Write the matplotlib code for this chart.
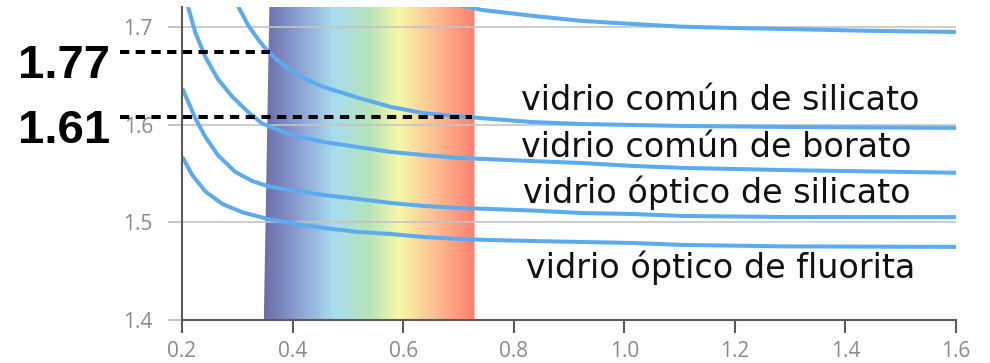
import numpy as np
import matplotlib
matplotlib.use("Agg")
import matplotlib.pyplot as plt
from matplotlib.colors import LinearSegmentedColormap
from matplotlib.patches import Polygon

# refractive index n vs wavelength (um)
flint_x = [0.70, 0.742, 0.833, 0.924, 1.015, 1.105, 1.196, 1.287, 1.45, 1.60]
flint_n = [1.723, 1.718, 1.712, 1.7067, 1.7036, 1.7008, 1.6995, 1.6985, 1.6965, 1.6954]

silicato_comun_x = [0.302, 0.320, 0.338, 0.356, 0.382, 0.396, 0.424, 0.456, 0.518, 0.578,
                    0.638, 0.700, 0.742, 0.833, 0.924, 1.015, 1.105, 1.287, 1.60]
silicato_comun_n = [1.721, 1.702, 1.6875, 1.675, 1.662, 1.656, 1.647, 1.639, 1.628, 1.6185,
                    1.612, 1.609, 1.607, 1.603, 1.601, 1.600, 1.599, 1.598, 1.597]

borato_comun_x = [0.211, 0.224, 0.242, 0.265, 0.291, 0.320, 0.345, 0.396, 0.456, 0.518,
                  0.578, 0.638, 0.700, 0.760, 0.833, 0.924, 1.015, 1.105, 1.287, 1.60]
borato_comun_n = [1.721, 1.695, 1.670, 1.647, 1.629, 1.613, 1.6015, 1.590, 1.5826, 1.5774,
                  1.5723, 1.5692, 1.5662, 1.5648, 1.563, 1.561, 1.558, 1.556, 1.5538, 1.551]

silicato_optico_x = [0.202, 0.211, 0.224, 0.242, 0.265, 0.296, 0.327, 0.356, 0.396, 0.456,
                     0.518, 0.578, 0.638, 0.700, 0.760, 0.833, 0.924, 1.015, 1.105, 1.287, 1.60]
silicato_optico_n = [1.636, 1.624, 1.607, 1.588, 1.569, 1.552, 1.5425, 1.537, 1.5333, 1.5282,
                     1.5241, 1.520, 1.5169, 1.5149, 1.5138, 1.5123, 1.5097, 1.5087, 1.5067, 1.5056, 1.5055]

fluorita_optico_x = [0.202, 0.218, 0.242, 0.273, 0.309, 0.356, 0.396, 0.456, 0.518, 0.578,
                     0.638, 0.700, 0.760, 0.833, 0.924, 1.015, 1.105, 1.287, 1.60]
fluorita_optico_n = [1.566, 1.549, 1.532, 1.519, 1.5105, 1.5035, 1.4995, 1.4944, 1.4903, 1.4882,
                     1.4851, 1.4831, 1.482, 1.481, 1.480, 1.479, 1.477, 1.4755, 1.475]

curve_labels = ["vidrio común de silicato", "vidrio común de borato",
                "vidrio óptico de silicato", "vidrio óptico de fluorita"]
label_x = [0.813, 0.813, 0.816, 0.822]
label_y = [1.615, 1.567, 1.520, 1.443]

# visible band and the two marked values
band_left_bottom, band_left_top, band_right = 0.348, 0.358, 0.729
marks = ["1.77", "1.61"]
mark_y = [1.675, 1.608]
mark_x_end = [0.36, 0.724]
mark_text_y = [1.648, 1.5815]

x_ticks = [0.2, 0.4, 0.6, 0.8, 1.0, 1.2, 1.4, 1.6]
y_ticks = [1.4, 1.5, 1.6, 1.7]

plt.rcParams['font.family'] = ['Open Sans', 'DejaVu Sans']

fig = plt.figure(figsize=(9.9, 3.63), dpi=100)
ax = fig.add_axes([182 / 990, 1 - 320 / 363, (956 - 182) / 990, (320 - 7) / 363])

# spectrum band
spec_cmap = LinearSegmentedColormap.from_list("spec", [
    (0.0, '#6b6ea8'), (0.15, '#8a9bd0'), (0.33, '#a9dcee'), (0.5, '#b6e4b8'),
    (0.64, '#f6f8a8'), (0.8, '#fcc294'), (1.0, '#fc8070')])
grad = np.linspace(0, 1, 256).reshape(1, -1)
ylo, yhi = 1.4, 1.721
im = ax.imshow(grad, extent=[band_left_bottom, band_right, ylo, yhi], aspect='auto',
               cmap=spec_cmap, interpolation='bilinear', zorder=1)
clip = Polygon([(band_left_bottom, ylo), (band_left_top, yhi), (band_right, yhi), (band_right, ylo)],
               closed=True, transform=ax.transData, facecolor='none', edgecolor='none')
ax.add_patch(clip)
im.set_clip_path(clip)

curve_color = '#5cabef'
for xs, ns in [(flint_x, flint_n), (silicato_comun_x, silicato_comun_n),
               (borato_comun_x, borato_comun_n), (silicato_optico_x, silicato_optico_n),
               (fluorita_optico_x, fluorita_optico_n)]:
    ax.plot(xs, ns, color=curve_color, lw=2.9, solid_joinstyle='round',
            solid_capstyle='round', zorder=3)

for lab, lx, ly in zip(curve_labels, label_x, label_y):
    ax.text(lx, ly, lab, fontsize=24, family='DejaVu Sans', color='#111111',
            ha='left', va='baseline', zorder=5)

# dashed markers with big labels on the left
for m, my, mx, ty in zip(marks, mark_y, mark_x_end, mark_text_y):
    ax.plot([0.088, mx], [my, my], color='black', lw=2.9, dashes=(2.3, 1.6),
            dash_capstyle='butt', clip_on=False, zorder=6)
    ax.text(0.07, ty, m, fontsize=34, family='Liberation Sans', fontweight='bold',
            color='black', ha='right', va='baseline', clip_on=False, zorder=6)

ax.set_xlim(0.2, 1.6)
ax.set_ylim(ylo, yhi)
ax.set_xticks(x_ticks)
ax.set_xticklabels([f"{v:.1f}" for v in x_ticks])
ax.set_yticks(y_ticks)
ax.set_yticklabels([f"{v:.1f}" for v in y_ticks])

ax.set_axisbelow(False)
ax.grid(axis='y', color='#c4c4c4', lw=1.4, alpha=0.85, zorder=2)
ax.grid(axis='x', visible=False)

for s in ['top', 'right']:
    ax.spines[s].set_visible(False)
for s in ['left', 'bottom']:
    ax.spines[s].set_color('#5a5a5a')
    ax.spines[s].set_linewidth(1.5)
    ax.spines[s].set_zorder(4)

ax.tick_params(axis='y', length=10, width=1.4, color='#c4c4c4', pad=11,
               labelsize=15, labelcolor='#8a8a8a')
ax.tick_params(axis='x', length=9, width=1.5, color='#5a5a5a', pad=6,
               labelsize=15, labelcolor='#8a8a8a')
ax.yaxis.get_major_ticks()[0].tick1line.set_color('#5a5a5a')

fig.savefig('out.png', dpi=100)
